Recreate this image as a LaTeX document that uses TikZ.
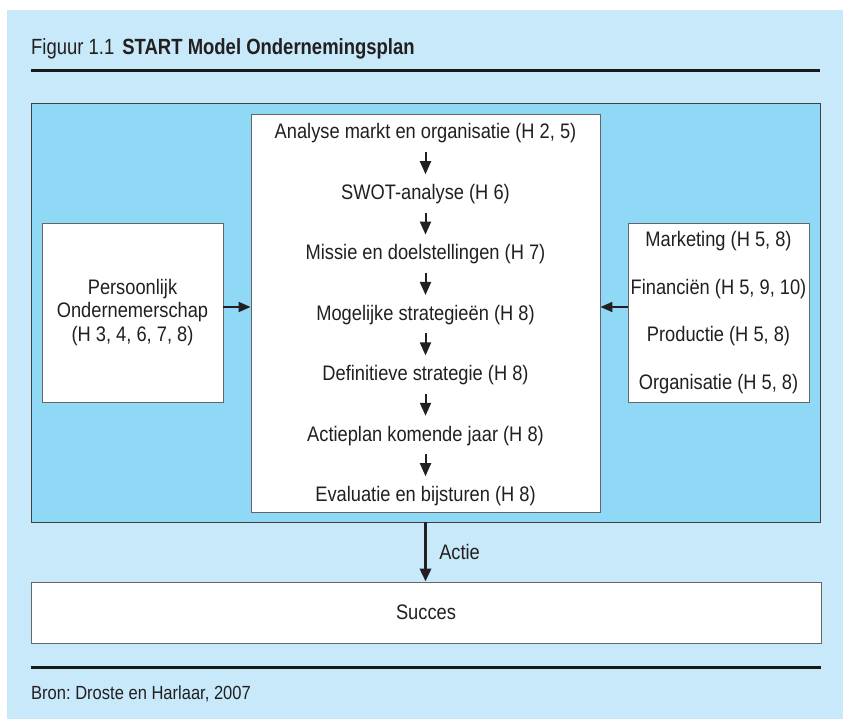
\documentclass[tikz,border=0pt]{standalone}
\usepackage{fontspec}
\setmainfont[FakeStretch=0.87]{Liberation Sans}
\newfontfamily\titlefont[FakeStretch=0.84]{Liberation Sans}
\usetikzlibrary{positioning,arrows.meta}
\definecolor{pagebg}{RGB}{199,233,249}
\definecolor{planblue}{RGB}{143,217,246}
\definecolor{inkgrey}{RGB}{35,31,32}
\frenchspacing

\begin{document}
\begin{tikzpicture}[x=1pt, y=-1pt, inkgrey,
    textfont/.style={font=\fontsize{21}{23.5}\selectfont},
    stepnode/.style={textfont, inner sep=0pt, text height=15pt, text depth=4pt},
    whitebox/.style={rectangle, draw=black!60, line width=0.9pt, fill=white, textfont, align=center},
    steparrow/.style={line width=2pt, -{Triangle[length=13pt,width=11pt]}, shorten <=9pt, shorten >=10pt},
    sidearrow/.style={line width=2pt, -{Triangle[length=12pt,width=10pt]}},
    rulebar/.style={line width=3pt, black!90}]

\useasboundingbox (0,0) rectangle (843,719);
\fill[pagebg] (7,10) rectangle (843,719);

% title and rule
\node (title) [anchor=base west, inner sep=0pt, font=\titlefont\fontsize{22}{25}\selectfont] at (31,55) {Figuur 1.1\hspace{8pt}\textbf{START Model Ondernemingsplan}};
\draw[rulebar] (31,71) -- (820,71);

% boxes
\node (plan) [rectangle, draw=black!75, line width=0.9pt, fill=planblue, minimum width=789pt, minimum height=419pt] at (425.5,312.5) {};
\node (ctr) [whitebox, minimum width=349pt, minimum height=398pt] at (425.5,313) {};
\node (lbox) [whitebox, minimum width=181pt, minimum height=179pt, inner sep=2pt] at (132.5,312.5) {Persoonlijk\\Ondernemerschap\\(H 3, 4, 6, 7, 8)};
\node (rbox) [whitebox, minimum width=181pt, minimum height=179pt, inner sep=2pt, font=\fontsize{21}{47.7}\selectfont] at (718.5,312.5) {Marketing (H 5, 8)\\Financiën (H 5, 9, 10)\\Productie (H 5, 8)\\Organisatie (H 5, 8)};

% steps
\node (s1) [stepnode] at (425.5,133.5) {Analyse markt en organisatie (H 2, 5)};
\node (s2) [stepnode, below=41pt of s1] {SWOT-analyse (H 6)};
\node (s3) [stepnode, below=41pt of s2] {Missie en doelstellingen (H 7)};
\node (s4) [stepnode, below=41pt of s3] {Mogelijke strategieën (H 8)};
\node (s5) [stepnode, below=41pt of s4] {Definitieve strategie (H 8)};
\node (s6) [stepnode, below=41pt of s5] {Actieplan komende jaar (H 8)};
\node (s7) [stepnode, below=41pt of s6] {Evaluatie en bijsturen (H 8)};

\draw[steparrow] (s1) -- (s2);
\draw[steparrow] (s2) -- (s3);
\draw[steparrow] (s3) -- (s4);
\draw[steparrow] (s4) -- (s5);
\draw[steparrow] (s5) -- (s6);
\draw[steparrow] (s6) -- (s7);

\draw[sidearrow] ([yshift=5.5pt]lbox.east) -- ([yshift=5.5pt]lbox.east -| ctr.west);
\draw[sidearrow] ([yshift=5.5pt]rbox.west) -- ([yshift=5.5pt]rbox.west -| ctr.east);

% result
\node (succes) [whitebox, minimum width=790pt, minimum height=61pt] at (426,612.5) {Succes};
\draw[line width=3.5pt, -{Triangle[length=13pt,width=11pt]}] (plan.south) -- (plan.south |- succes.north)
    node[midway, right=12pt, inner sep=0pt, textfont] (actie) {Actie};

% source
\draw[rulebar] (31,667) -- (821,667);
\node (bron) [anchor=base west, inner sep=0pt, font=\fontsize{19}{22}\selectfont] at (31,699) {Bron: Droste en Harlaar, 2007};

\end{tikzpicture}
\end{document}
